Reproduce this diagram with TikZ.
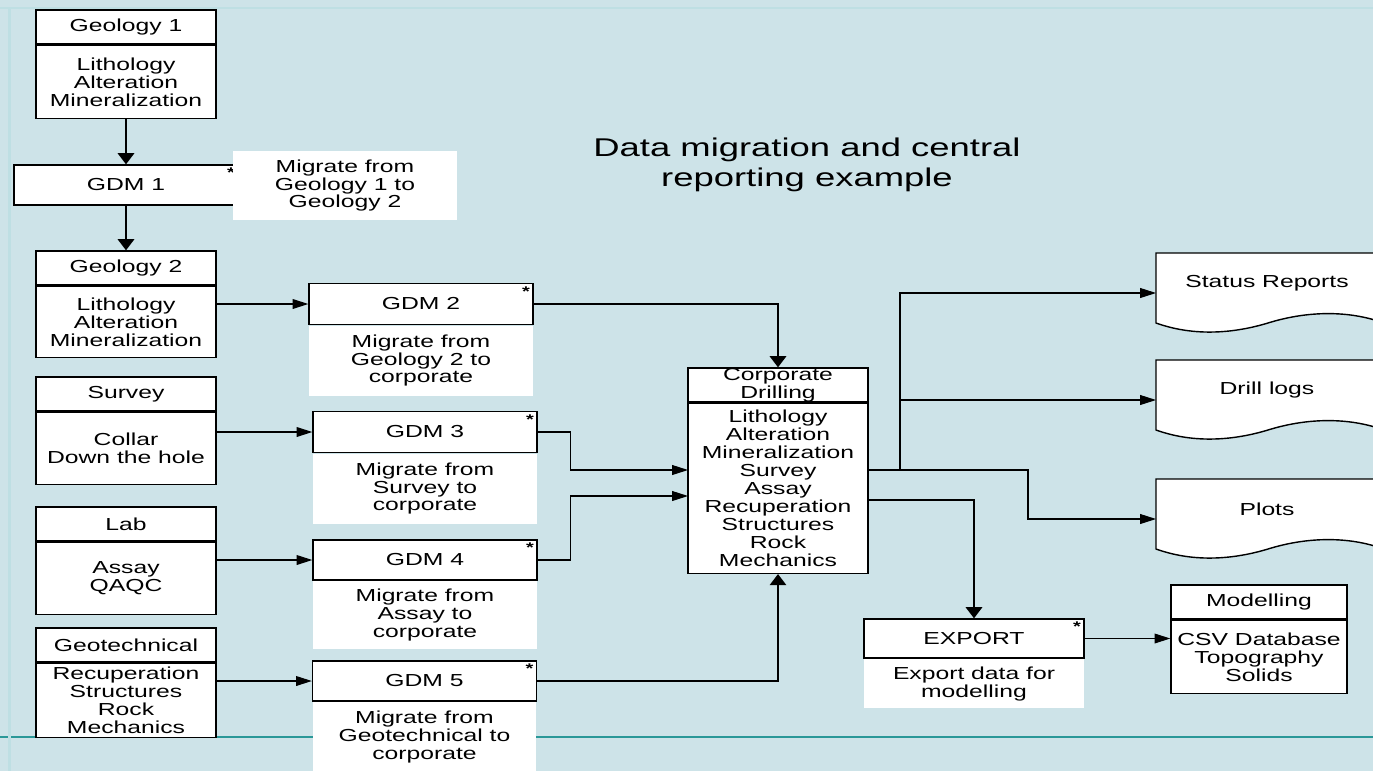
\documentclass[tikz,border=0pt]{standalone}
\usepackage{fontspec}
\setmainfont{Liberation Sans}[FakeStretch=1.42]
\usepackage{xcolor}
\usetikzlibrary{arrows.meta}
\usetikzlibrary{positioning}
\definecolor{bgblue}{HTML}{CDE3E8}
\definecolor{rimblue}{HTML}{BEDFE3}
\definecolor{ruleteal}{HTML}{2A9898}

\begin{document}
\begin{tikzpicture}[x=0.02cm, y=-0.02cm,
    every node/.style={font=\fontsize{9.9}{10.2}\selectfont, align=center, inner sep=0pt},
    head/.style={draw, fill=white, line width=0.8pt, minimum width=3.6cm, minimum height=0.68cm},
    body/.style={draw, fill=white, line width=0.8pt, minimum width=3.6cm},
    gdm/.style={draw, fill=white, line width=0.8pt, minimum width=4.48cm, minimum height=0.82cm,
      label={[anchor=north east, inner sep=2pt, font=\fontsize{8}{8}\selectfont\bfseries]north east:*}},
    note/.style={fill=white, minimum width=4.48cm},
    conn/.style={-{Triangle[length=9pt, width=5.6pt]}, line width=0.6pt},
    vconn/.style={-{Triangle[length=6.3pt, width=9.4pt]}, line width=0.8pt},
  ]
  \useasboundingbox (0,0) rectangle (1373,771);
  \fill[bgblue] (0,0) rectangle (1373,771);
  \draw[ruleteal, line width=1.2pt] (0,737) -- (1373,737);
  \draw[rimblue, line width=1.2pt] (0,8) -- (1373,8) (9.5,8) -- (9.5,771);

  \node[font=\fontsize{14.6}{17}\selectfont] (title) at (807,165)
    {Data migration and central\\reporting example};

  % sources
  \node[head] (geo1h) at (126,27) {Geology 1};
  \node[body, minimum height=1.46cm, below=0pt of geo1h] (geo1b) {Lithology\\Alteration\\Mineralization};
  \node[head] (geo2h) at (126,268) {Geology 2};
  \node[body, minimum height=1.42cm, below=0pt of geo2h] (geo2b) {Lithology\\Alteration\\Mineralization};
  \node[head] (survh) at (126,394) {Survey};
  \node[body, minimum height=1.44cm, below=0pt of survh] (survb) {Collar\\Down the hole};
  \node[head] (labh) at (126,524) {Lab};
  \node[body, minimum height=1.44cm, below=0pt of labh] (labb) {Assay\\QAQC};
  \node[head] (geoth) at (126,645) {Geotechnical};
  \node[body, minimum height=1.48cm, below=0pt of geoth] (geotb) {Recuperation\\Structures\\Rock\\Mechanics};

  % migrations
  \node[gdm, minimum height=0.8cm] (gdm1) at (126,185) {GDM 1};
  \node[note, minimum height=1.38cm] (mig1) at (345,185.5) {Migrate from\\Geology 1 to\\Geology 2};
  \node[gdm] (gdm2) at (421,304) {GDM 2};
  \node[note, minimum height=1.4cm, below=0pt of gdm2] (mig2) {Migrate from\\Geology 2 to\\corporate};
  \node[gdm] (gdm3) at (425,432) {GDM 3};
  \node[note, minimum height=1.4cm, below=0pt of gdm3] (mig3) {Migrate from\\Survey to\\corporate};
  \node[gdm, minimum height=0.8cm] (gdm4) at (425,560) {GDM 4};
  \node[note, minimum height=1.36cm, below=0pt of gdm4] (mig4) {Migrate from\\Assay to\\corporate};
  \node[gdm, minimum height=0.8cm] (gdm5) at (424.5,681) {GDM 5};
  \node[note, minimum height=1.4cm, below=0pt of gdm5] (mig5) {Migrate from\\Geotechnical to\\corporate};

  % central store
  \node[head] (corph) at (778,385) {Corporate\\Drilling};
  \node[body, minimum height=3.4cm, below=0pt of corph] (corpb)
    {Lithology\\Alteration\\Mineralization\\Survey\\Assay\\Recuperation\\Structures\\Rock\\Mechanics};
  \coordinate (corp-in1) at (688,470);
  \coordinate (corp-in2) at (688,496);
  \coordinate (corp-out1) at (868,470);
  \coordinate (corp-out2) at (868,500);
  \coordinate (split) at (900,470);

  % export
  \node[gdm, minimum width=4.4cm, minimum height=0.78cm] (export) at (974,638.5) {EXPORT};
  \node[note, minimum width=4.4cm, minimum height=0.98cm, below=0pt of export] (expnote) {Export data for\\modelling};
  \node[head, minimum width=3.52cm] (modh) at (1259,602) {Modelling};
  \node[body, minimum width=3.52cm, minimum height=1.46cm, below=0pt of modh] (modb) {CSV Database\\Topography\\Solids};

  % reports
  \foreach \yy/\txt/\nm in {253/Status Reports/status, 360/Drill logs/drill, 479/Plots/plots} {
    \draw[fill=white, line width=0.8pt] (1378,\yy) -- (1156,\yy) -- (1156,\yy+70)
      .. controls (1195,\yy+84) and (1235,\yy+80) .. (1268,\yy+70)
      .. controls (1300,\yy+60) and (1340,\yy+56) .. (1378,\yy+68) -- cycle;
    \node (\nm) at (1267,\yy+30) {\txt};
    \coordinate (\nm-in) at (1156,\yy+40);
  }

  \draw[vconn] (geo1b.south) -- (gdm1.north);
  \draw[vconn] (gdm1.south) -- (geo2h.north);
  \draw[conn] (gdm2.west -| geo2b.east) -- (gdm2.west);
  \draw[vconn] (gdm2.east) -| (corph.north);
  \draw[conn] (gdm3.west -| survb.east) -- (gdm3.west);
  \draw[conn] (gdm3.east) -- ++(33,0) |- (corp-in1);
  \draw[conn] (gdm4.west -| labb.east) -- (gdm4.west);
  \draw[conn] (gdm4.east) -- ++(33,0) |- (corp-in2);
  \draw[conn] (gdm5.west -| geotb.east) -- (gdm5.west);
  \draw[vconn] (gdm5.east) -| (corpb.south);
  \draw[conn] (corp-out1) -- (split) |- (status-in);
  \draw[conn] (split) |- (drill-in);
  \draw[conn] (corp-out1) -- ++(160,0) |- (plots-in);
  \draw[vconn] (corp-out2) -| (export.north);
  \draw[conn] (export.east) -- (export.east -| modb.west);
\end{tikzpicture}
\end{document}
